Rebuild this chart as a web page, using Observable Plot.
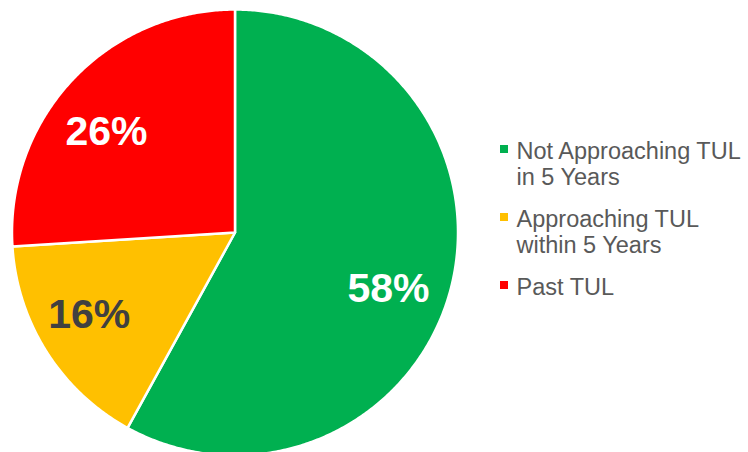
<!DOCTYPE html>
<html>
<head>
<meta charset="utf-8">
<script src="https://cdn.jsdelivr.net/npm/d3@7"></script>
<script src="https://cdn.jsdelivr.net/npm/@observablehq/plot@0.6"></script>
<style>
  html, body { margin: 0; padding: 0; background: #fff; overflow: hidden; }
  #wrap { position: relative; width: 748px; height: 452px; }
  #chart { position: absolute; left: 0; top: 0; }
  #legend { position: absolute; left: 500px; top: 137.6px; font-family: "Liberation Sans", Arial, sans-serif; font-size: 23.5px; line-height: 26.5px; color: #595959; }
  .item { position: relative; padding-left: 16.5px; margin-bottom: 15px; white-space: pre-line; }
  .sw { position: absolute; left: 0; top: 7.5px; width: 7.5px; height: 7.5px; }
</style>
</head>
<body>
<div id="wrap"><div id="chart"></div><div id="legend"></div></div>
<script>
// Data
const categories = ["Not Approaching TUL", "Approaching TUL", "Past TUL"];
const legendLabels = ["Not Approaching TUL\nin 5 Years", "Approaching TUL\nwithin 5 Years", "Past TUL"];
const shares = [58, 16, 26];
const colors = ["#00B050", "#FFC000", "#FF0000"];
const labelColors = ["#ffffff", "#404040", "#ffffff"];

// Layout constants
const cx = 234.5, cy = 232, r = 223;
const labelRadius = 0.74;
const labelNudge = [[-6.4, 15.6], [-6.4, -6.1], [-8.2, 12.6]]; // px offsets of value labels

const pie = d3.pie().sort(null).value(d => d.share);
const slices = pie(categories.map((c, i) => ({category: c, share: shares[i], label: shares[i] + "%", lc: labelColors[i], i})));

// wedge outlines in unit-circle coordinates (angle from top, clockwise)
const pts = [];
for (const s of slices) {
  const c = s.data.category;
  pts.push({category: c, x: 0, y: 0});
  const n = Math.max(2, Math.ceil((s.endAngle - s.startAngle) / (Math.PI / 360)));
  for (let k = 0; k <= n; k++) {
    const a = s.startAngle + (s.endAngle - s.startAngle) * k / n;
    pts.push({category: c, x: Math.sin(a), y: Math.cos(a)});
  }
  pts.push({category: c, x: 0, y: 0});
}
const labelPts = slices.map(s => {
  const a = (s.startAngle + s.endAngle) / 2;
  const [ndx, ndy] = labelNudge[s.data.i];
  return {x: labelRadius * Math.sin(a) + ndx / r, y: labelRadius * Math.cos(a) - ndy / r, label: s.data.label, lc: s.data.lc};
});

const plot = Plot.plot({
  width: 748,
  height: 452,
  margin: 0,
  x: {domain: [-1, 1], range: [cx - r, cx + r], axis: null},
  y: {domain: [-1, 1], range: [cy + r, cy - r], axis: null},
  color: {domain: categories, range: colors},
  style: {background: "#fff", overflow: "visible"},
  marks: [
    Plot.line(pts, {x: "x", y: "y", z: "category", fill: "category", stroke: "#fff", strokeWidth: 2.5, strokeLinejoin: "round"}),
    Plot.text(labelPts, {x: "x", y: "y", text: "label", fill: "lc", fontSize: 41, fontWeight: "bold", fontFamily: "Liberation Sans, Arial, sans-serif"})
  ]
});
document.getElementById("chart").appendChild(plot);

const legend = d3.select("#legend");
categories.forEach((c, i) => {
  const it = legend.append("div").attr("class", "item");
  it.append("span").attr("class", "sw").style("background", colors[i]);
  it.append("span").text(legendLabels[i]);
});
</script>
</body>
</html>
